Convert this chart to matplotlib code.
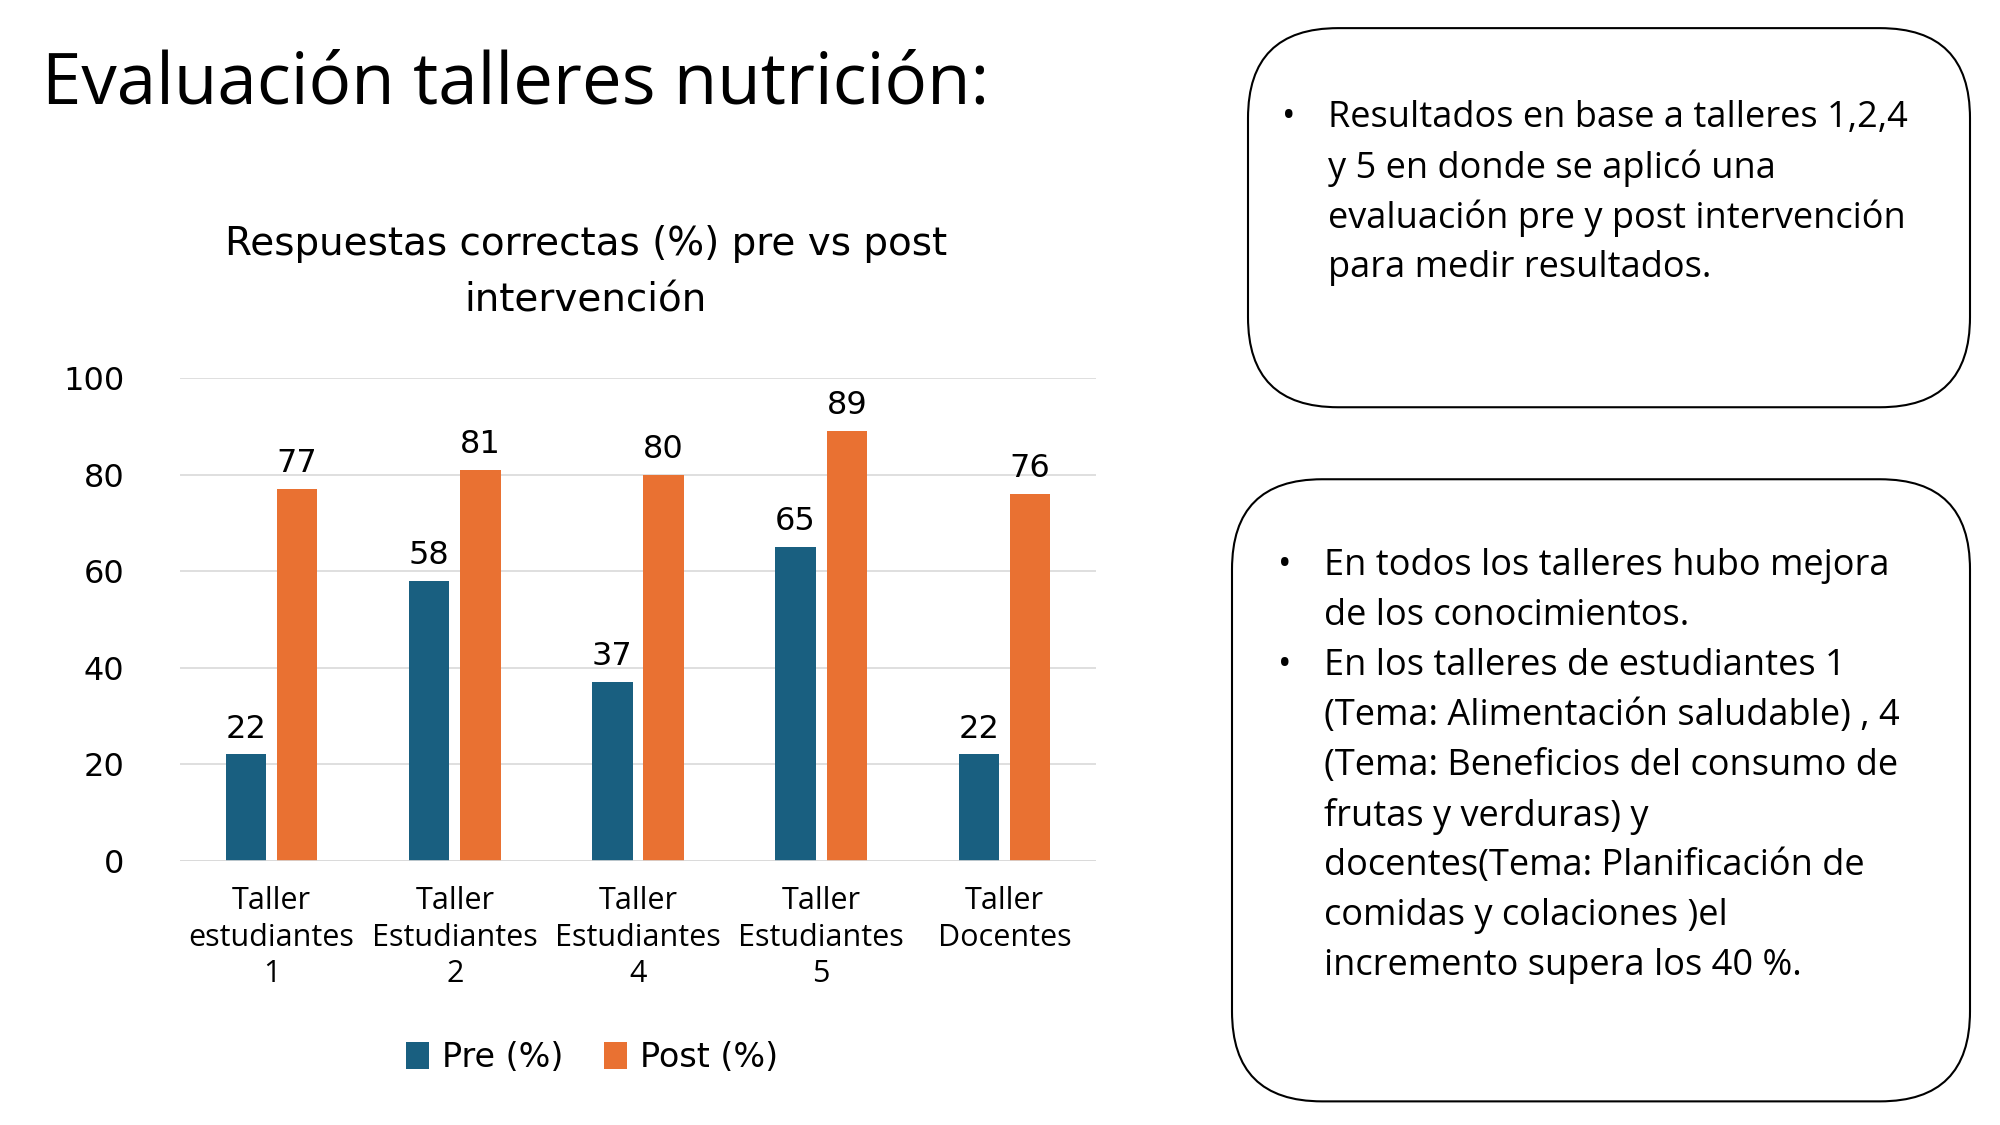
import matplotlib.pyplot as plt
import numpy as np
from matplotlib.patches import FancyBboxPatch

plt.rcParams['font.family'] = ['Open Sans', 'DejaVu Sans']

talleres = ["Taller\nestudiantes\n1", "Taller\nEstudiantes\n2", "Taller\nEstudiantes\n4",
            "Taller\nEstudiantes\n5", "Taller\nDocentes"]
pre = [22, 58, 37, 65, 22]
post = [77, 81, 80, 89, 76]
yticks = [0, 20, 40, 60, 80, 100]

blue = '#195f80'
orange = '#e97132'

fig = plt.figure(figsize=(20, 11.25), dpi=100)

fig.text(0.021, 0.925, "Evaluación talleres nutrición:", fontsize=51, va='center', ha='left')

ax = fig.add_axes([0.09, 0.235, 0.458, 0.429])
x = np.arange(len(talleres))
w = 0.22
b1 = ax.bar(x - 0.14, pre, w, color=blue, label='Pre (%)')
b2 = ax.bar(x + 0.14, post, w, color=orange, label='Post (%)')
for bars in (b1, b2):
    for r in bars:
        ax.text(r.get_x() + r.get_width() / 2, r.get_height() + 2.0, str(int(r.get_height())),
                ha='center', va='bottom', fontsize=23, family=['DejaVu Sans'])
ax.set_ylim(0, 100)
ax.set_xlim(-0.5, 4.5)
ax.set_yticks(yticks)
ax.tick_params(axis='y', labelsize=23, length=0, pad=40)
ax.set_xticks(x)
ax.set_xticklabels(talleres, fontsize=22, linespacing=1.3)
ax.tick_params(axis='x', length=0, pad=18)
for lab in ax.get_yticklabels():
    lab.set_family(['DejaVu Sans'])
ax.grid(axis='y', color='#d9d9d9', linewidth=1.2)
ax.set_axisbelow(True)
for s in ax.spines.values():
    s.set_visible(False)
ax.axhline(0, color='#d9d9d9', linewidth=1.2)

fig.text(0.293, 0.758, "Respuestas correctas (%) pre vs post\nintervención", ha='center', va='center',
         fontsize=28, linespacing=1.6, family=['DejaVu Sans'])
fig.legend(handles=[b1, b2], loc='center', bbox_to_anchor=(0.296, 0.06), ncol=2, frameon=False,
           handlelength=0.7, handleheight=0.9, columnspacing=1.2, handletextpad=0.4,
           prop={'family': ['DejaVu Sans'], 'size': 24})

for (x0, y0, x1, y1) in [(0.624, 0.638, 0.985, 0.975), (0.616, 0.021, 0.985, 0.574)]:
    fig.add_artist(FancyBboxPatch((x0, y0), x1 - x0, y1 - y0, boxstyle="round,pad=0,rounding_size=0.045",
                                  transform=fig.transFigure, facecolor='white', edgecolor='black',
                                  linewidth=1.5, mutation_aspect=16 / 9))

step = 0.0445
fs = 26
box1 = ["Resultados en base a talleres 1,2,4", "y 5 en donde se aplicó una",
        "evaluación pre y post intervención", "para medir resultados."]
fig.text(0.641, 0.895, "•", fontsize=fs, va='center')
for i, t in enumerate(box1):
    fig.text(0.664, 0.895 - i * step, t, fontsize=fs, va='center')

box2 = [("•", "En todos los talleres hubo mejora"), ("", "de los conocimientos."),
        ("•", "En los talleres de estudiantes 1"), ("", "(Tema: Alimentación saludable) , 4"),
        ("", "(Tema: Beneficios del consumo de"), ("", "frutas y verduras) y"),
        ("", "docentes(Tema: Planificación de"), ("", "comidas y colaciones )el"),
        ("", "incremento supera los 40 %.")]
for i, (b, t) in enumerate(box2):
    yy = 0.497 - i * step
    if b:
        fig.text(0.639, yy, b, fontsize=fs, va='center')
    fig.text(0.662, yy, t, fontsize=fs, va='center')

fig.savefig('out.png')
